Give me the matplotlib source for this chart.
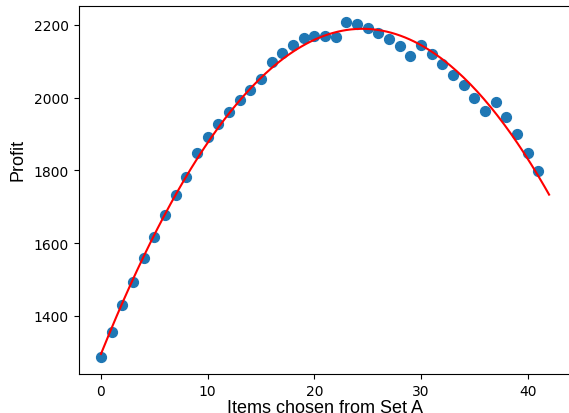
import numpy as np
import matplotlib
matplotlib.use("Agg")
import matplotlib.pyplot as plt

items = list(range(42))
profit = [1286, 1355, 1429, 1494, 1559, 1618, 1676, 1731, 1783, 1847,
          1893, 1928, 1962, 1995, 2022, 2052, 2099, 2124, 2146, 2165,
          2171, 2169, 2166, 2207, 2203, 2191, 2177, 2162, 2142, 2114,
          2145, 2119, 2093, 2063, 2035, 1999, 1964, 1988, 1948, 1900,
          1848, 1797]
fit_range = (0, 42)

coef = np.polyfit(items, profit, 2)
xf = np.linspace(fit_range[0], fit_range[1], 200)
yf = np.polyval(coef, xf)

fig = plt.figure(figsize=(5.69, 4.14), dpi=100)
ax = fig.add_axes([0.1381, 0.0942, 0.8663, 0.8896])
ax.scatter(items, profit, s=50, color='#1f77b4', zorder=2)
ax.plot(xf, yf, color='red', lw=1.5, zorder=3)
ax.set_xlabel('Items chosen from Set A', fontsize=13, family='Liberation Sans', labelpad=1)
ax.set_ylabel('Profit', fontsize=13, family='Liberation Sans', labelpad=5)
ax.yaxis.label.set_y(0.585)
fig.savefig('out.png', dpi=100)
